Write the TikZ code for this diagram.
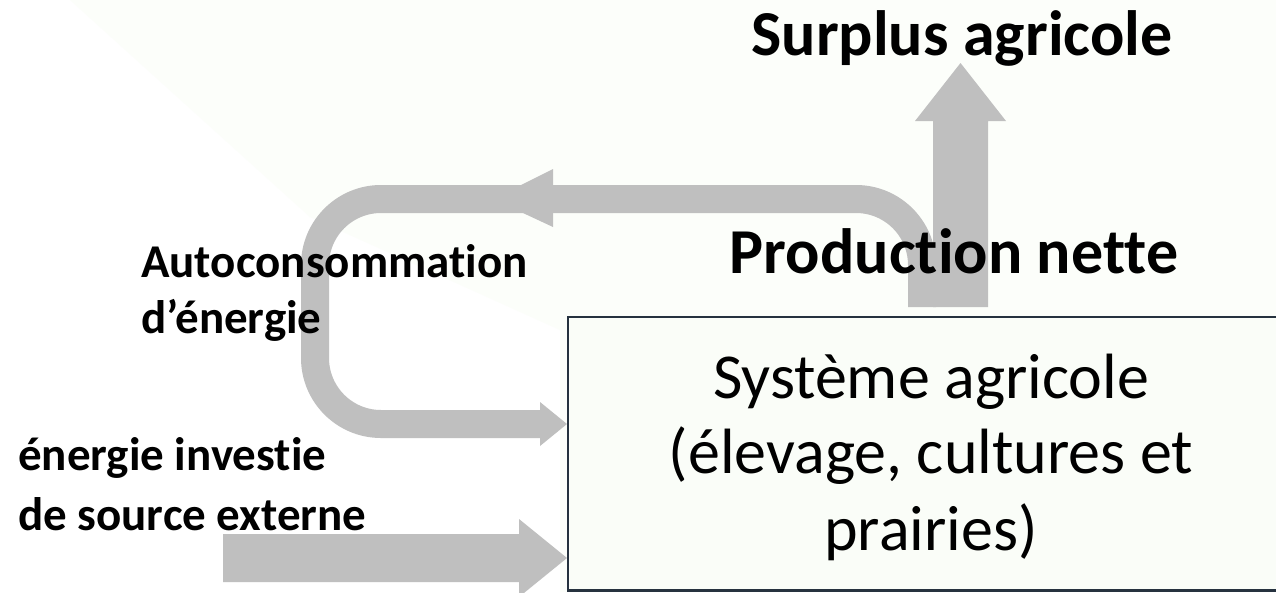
\documentclass[tikz,border=0pt]{standalone}
\usepackage{fontspec}
\setmainfont[Ligatures=NoCommon]{Carlito}
\definecolor{arrowgray}{RGB}{191,191,191}
\definecolor{boxline}{RGB}{38,50,63}
\definecolor{tint}{RGB}{250,253,248}
\definecolor{bgtint}{RGB}{252,254,250}
\tikzset{
  lbl/.style={font=\bfseries\fontsize{47}{56}\selectfont, inner sep=0pt, anchor=base west},
  big/.style={font=\bfseries\fontsize{64}{77}\selectfont, inner sep=0pt, anchor=base},
  boxtxt/.style={font=\fontsize{64}{77}\selectfont, inner sep=0pt, anchor=base},
  band/.style={draw=arrowgray, line width=28pt, rounded corners=66pt},
  fat/.style={fill=arrowgray},
}
\begin{document}
\begin{tikzpicture}[x=1pt,y=-1pt]
\useasboundingbox (0,0) rectangle (1276,592);
\clip (0,0) rectangle (1276,592);
\fill[white] (0,0) rectangle (1276,592);
\fill[bgtint] (70,0) -- (1276,0) -- (1276,592) -- (560,592) -- (560,330) -- (310,217) -- cycle;

% system box (open on the right: it runs past the picture edge)
\node[fill=tint, minimum width=760pt, minimum height=273pt, inner sep=0pt, anchor=north west]
  (box) at (568,317) {};
\draw[boxline, line width=2.5pt] (box.north east) -- (box.north west) -- (box.south west) -- (box.south east);
\node[boxtxt] (t1) at (931,398) {Système agricole};
\node[boxtxt] (t2) at (931,473) {(élevage, cultures et};
\node[boxtxt] (t3) at (931,550) {prairies)};

% coordinates
\coordinate (upS) at (960.5,307);
\coordinate (upT) at (960.5,63);
\coordinate (loopS) at (922,307);
\coordinate (loopE) at (540,424);
\coordinate (loopT) at (567,424);
\coordinate (extS) at (223,558);
\coordinate (extT) at (567,558);

% self-consumption loop
\draw[band] (loopS) |- (315,199) |- (loopE);
\fill[arrowgray] (553,169) -- (553,227) -- (493,199) -- cycle;
\fill[arrowgray] (540,402) -- (loopT) -- (540,446) -- cycle;

% surplus arrow
\fill[fat] (933,307) -- (933,121) -- (915,121) -- (upT) -- (1006,121) -- (988,121) -- (988,307) -- cycle;

% external energy arrow
\fill[fat] (extS |- 0,534) -- (519,534) -- (519,519) -- (extT) -- (519,597) -- (519,582) -- (extS |- 0,582) -- cycle;

% labels
\node[big] (surplus) at (962,55) {Surplus agricole};
\node[big] (prod) at (954,273) {Production nette};
\node[lbl] (auto1) at (141,277) {Autoconsommation};
\node[lbl] (auto2) at (141,333) {d’énergie};
\node[lbl] (ext1) at (18,470) {énergie investie};
\node[lbl] (ext2) at (18,530) {de source externe};
\end{tikzpicture}
\end{document}
